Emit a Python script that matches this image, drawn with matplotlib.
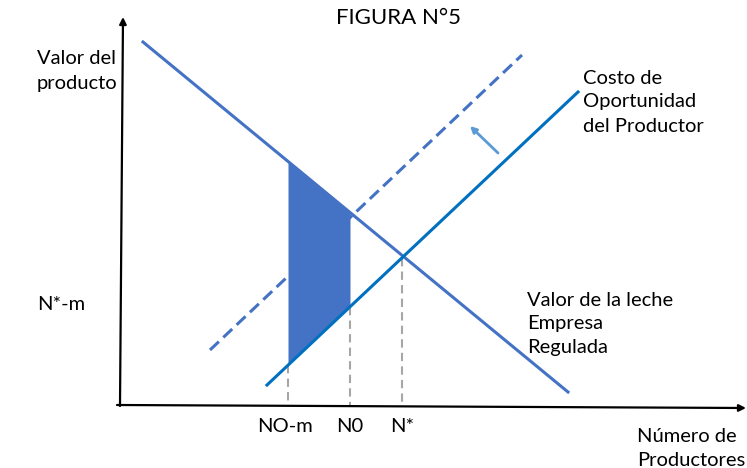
import matplotlib.pyplot as plt
import numpy as np

# diagram values, in picture units (x to the right, y downwards)
demand_x = [143, 568]
demand_y = [42, 392]
supply_x = [267, 578]
supply_y = [385, 92]
shifted_x = [210, 522]
shifted_y = [350, 55]
marks_x = [288, 350, 402]
marks_labels = ["NO-m", "N0", "N*"]
axis_y = 405
axis_x = 120

BLUE = "#4472C4"
BLUE2 = "#0070C0"
LIGHT = "#5B9BD5"
FS = 14.5

plt.rcParams['font.family'] = ['Lato', 'DejaVu Sans']

fig = plt.figure(figsize=(7.47, 4.68), dpi=100)
ax = fig.add_axes([0, 0, 1, 1])
ax.set_xlim(0, 747)
ax.set_ylim(468, 0)
ax.axis('off')


def line_at(xs, ys, x):
    return np.interp(x, xs, ys) if xs[0] < xs[1] else np.interp(x, xs[::-1], ys[::-1])


# shaded area between the demand line and the supply line
xf = np.array(marks_x[:2])
top = line_at(demand_x, demand_y, xf)
bot = line_at(supply_x, supply_y, xf)
ax.fill_between(xf, top, bot, color=BLUE, lw=0, zorder=2)

ax.plot(demand_x, demand_y, color=BLUE, lw=2.2, zorder=3)
ax.plot(supply_x, supply_y, color=BLUE2, lw=2.2, zorder=3)
ax.plot(shifted_x, shifted_y, color=BLUE, lw=2.2, ls=(0, (4, 2)), zorder=3)

# gray guides down to the axis
for i, x in enumerate(marks_x):
    y0 = line_at(supply_x, supply_y, x)
    ax.plot([x, x], [y0, axis_y], color="#A6A6A6", lw=1.5, ls=(0, (4, 2.5)), zorder=1)
    ax.text(x - (3 if i == 0 else 0), 427, marks_labels[i], ha='center', va='center', fontsize=FS)

# axes with arrow heads
ax.annotate("", xy=(axis_x + 3, 17), xytext=(axis_x, axis_y + 1),
            arrowprops=dict(arrowstyle="-|>", color="black", lw=1.6, mutation_scale=10,
                            shrinkA=0, shrinkB=0))
ax.annotate("", xy=(746, 408), xytext=(axis_x - 3, axis_y),
            arrowprops=dict(arrowstyle="-|>", color="black", lw=1.6, mutation_scale=10,
                            shrinkA=0, shrinkB=0))

# shift arrow
ax.annotate("", xy=(470, 126), xytext=(498, 153),
            arrowprops=dict(arrowstyle="-|>", color=LIGHT, lw=2, mutation_scale=9,
                            shrinkA=0, shrinkB=0))

ax.text(398, 18, "FIGURA N°5", ha='center', va='center', fontsize=16)
ax.text(37, 71, "Valor del\nproducto", ha='left', va='center', fontsize=FS, linespacing=1.5)
ax.text(37, 305, "N*-m", ha='left', va='center', fontsize=FS)
ax.text(583, 102, "Costo de\nOportunidad\ndel Productor", ha='left', va='center', fontsize=FS, linespacing=1.5)
ax.text(527, 324, "Valor de la leche\nEmpresa\nRegulada", ha='left', va='center', fontsize=FS, linespacing=1.5)
ax.text(637, 448, "Número de\nProductores", ha='left', va='center', fontsize=FS, linespacing=1.5)

fig.savefig("out.png", dpi=100)
